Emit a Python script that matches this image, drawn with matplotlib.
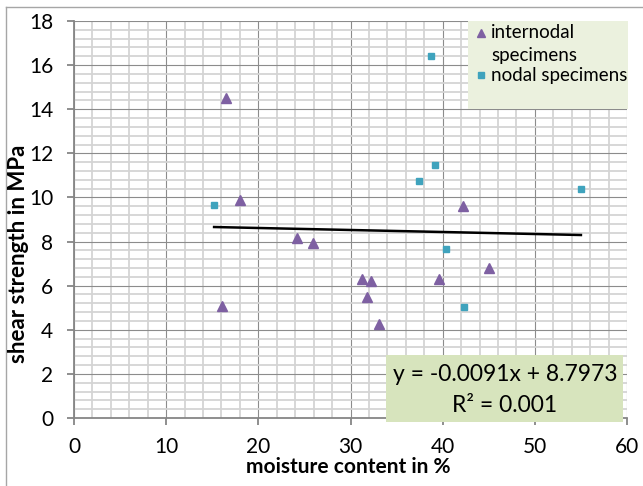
import matplotlib
matplotlib.use("Agg")
import matplotlib.pyplot as plt
from matplotlib.ticker import MultipleLocator
from matplotlib.patches import Rectangle
from matplotlib.lines import Line2D
import numpy as np

plt.rcParams['font.family'] = ['Lato', 'DejaVu Sans']

# Data
internodal_x = [16.5, 18.0, 24.2, 25.9, 16.1, 31.2, 32.2, 31.8, 33.1, 39.6, 42.2, 45.0]
internodal_y = [14.5, 9.87, 8.17, 7.95, 5.07, 6.3, 6.22, 5.5, 4.27, 6.3, 9.6, 6.82]
nodal_x = [15.2, 38.75, 39.2, 37.45, 40.35, 42.3, 55.0]
nodal_y = [9.68, 16.4, 11.45, 10.74, 7.65, 5.03, 10.39]
slope = -0.0091
intercept = 8.7973
r2 = 0.001
x_label = "moisture content in %"
y_label = "shear strength in MPa"
legend_labels = ["internodal\nspecimens", "nodal specimens"]

W, H = 643, 486
fig = plt.figure(figsize=(W / 100, H / 100), dpi=100)

def fx(px):
    return px / W

def fy(py):
    return 1 - py / H

ax = fig.add_axes([fx(74), fy(418), fx(627) - fx(74), fy(21) - fy(418)])

# outer chart border (partially visible)
fig.add_artist(Line2D([fx(6), fx(6)], [fy(7), 0], color='#A6A6A6', lw=1.0, transform=fig.transFigure))
fig.add_artist(Line2D([fx(6), 1], [fy(7), fy(7)], color='#A6A6A6', lw=1.0, transform=fig.transFigure))

ax.set_xlim(0, 60)
ax.set_ylim(0, 18)
ax.xaxis.set_major_locator(MultipleLocator(10))
ax.xaxis.set_minor_locator(MultipleLocator(2))
ax.yaxis.set_major_locator(MultipleLocator(2))
ax.yaxis.set_minor_locator(MultipleLocator(0.4))
ax.grid(which='minor', color='#D4D4D4', lw=1.3, zorder=0)
ax.grid(which='major', color='#8C8C8C', lw=0.8, zorder=0)
ax.set_axisbelow(True)
for s in ['top', 'right']:
    ax.spines[s].set_visible(False)
for s in ['left', 'bottom']:
    ax.spines[s].set_color('#868686')
    ax.spines[s].set_linewidth(1.3)
ax.tick_params(which='minor', length=0)
ax.tick_params(which='major', length=5, width=1.3, color='#868686', labelsize=15)
ax.tick_params(axis='y', pad=10)
ax.tick_params(axis='x', pad=9)

ax.plot(internodal_x, internodal_y, linestyle='none', marker='^', color='#7E60A2', markersize=7, zorder=3)
ax.plot(nodal_x, nodal_y, linestyle='none', marker='s', color='#3FA3BD', markersize=5, zorder=3)

all_x = np.array(internodal_x + nodal_x)
tx = np.array([all_x.min(), all_x.max()])
ax.plot(tx, slope * tx + intercept, color='black', lw=1.8, zorder=2)

# axis labels
fig.text(fx(348), fy(467), x_label, ha='center', va='center', fontsize=15, fontweight='bold')
fig.text(fx(19), fy(254), y_label, ha='center', va='center', rotation=90, fontsize=16, fontweight='bold')

# legend
fig.add_artist(Rectangle((fx(468), fy(109)), fx(628) - fx(468), fy(21) - fy(109),
                         transform=fig.transFigure, facecolor='#EBF1DE', edgecolor='none', zorder=4))
fig.add_artist(Line2D([fx(481)], [fy(33)], marker='^', color='#7E60A2', markersize=5.5,
                      linestyle='none', transform=fig.transFigure, zorder=5))
fig.add_artist(Line2D([fx(481)], [fy(75)], marker='s', color='#3FA3BD', markersize=4,
                      linestyle='none', transform=fig.transFigure, zorder=5))
lab1, lab2 = legend_labels[0].split("\n")
fig.text(fx(491), fy(33), lab1, ha='left', va='center', fontsize=13.5, zorder=5)
fig.text(fx(491), fy(56), lab2, ha='left', va='center', fontsize=13.5, zorder=5)
fig.text(fx(491), fy(75), legend_labels[1], ha='left', va='center', fontsize=13.5, zorder=5)

# equation box
fig.add_artist(Rectangle((fx(386), fy(422)), fx(623) - fx(386), fy(355) - fy(422),
                         transform=fig.transFigure, facecolor='#D7E4BD', edgecolor='none', zorder=4))
fig.text(fx(505), fy(374), f"y = {slope:.4f}x + {intercept:.4f}", ha='center', va='center', fontsize=16.5, zorder=5)
fig.text(fx(505), fy(406), f"R² = {r2:.3f}", ha='center', va='center', fontsize=16.5, zorder=5)

fig.savefig("out.png", dpi=100)
